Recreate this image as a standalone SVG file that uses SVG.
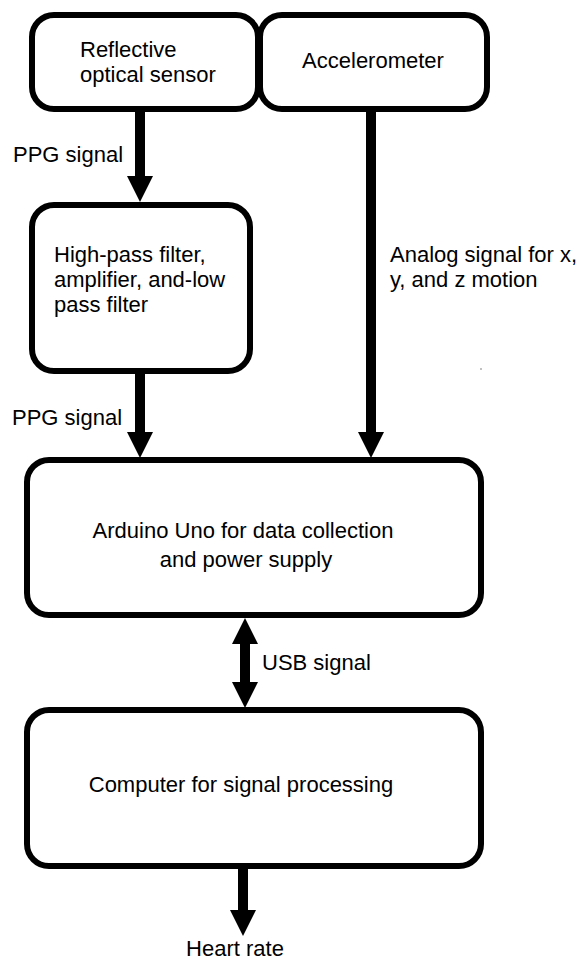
<svg xmlns="http://www.w3.org/2000/svg" width="577" height="960" viewBox="0 0 577 960">
<defs>
<style>
.box{fill:#fff;stroke:#000;stroke-width:6}
.t{font-family:"Liberation Sans",Arial,sans-serif;font-size:22px;fill:#000}
.c{text-anchor:middle}
.conn{stroke:#000;stroke-width:10;fill:none}
</style>
<marker id="ah" markerUnits="userSpaceOnUse" markerWidth="26" markerHeight="26" viewBox="0 0 26 26" refX="12" refY="13" orient="auto-start-reverse">
<path d="M0,0 L26,13 L0,26 z" fill="#000"/>
</marker>
</defs>
<rect width="577" height="960" fill="#fff"/>
<g id="connectors">
<line class="conn" x1="140" y1="108" x2="140" y2="188" marker-end="url(#ah)"/>
<line class="conn" x1="371" y1="108" x2="371" y2="444" marker-end="url(#ah)"/>
<line class="conn" x1="140" y1="372" x2="140" y2="444" marker-end="url(#ah)"/>
<line class="conn" x1="245" y1="632" x2="245" y2="694" marker-start="url(#ah)" marker-end="url(#ah)"/>
<line class="conn" x1="243" y1="868" x2="243" y2="922" marker-end="url(#ah)"/>
<text class="t" x="13" y="162">PPG signal</text>
<text class="t" x="390" y="262">Analog signal for x,</text>
<text class="t" x="390" y="287">y, and z motion</text>
<text class="t" x="12" y="425">PPG signal</text>
<text class="t" x="262" y="670">USB signal</text>
<text class="t c" x="235" y="956">Heart rate</text>
</g>
<g id="sensor">
<rect class="box" x="32" y="15" width="226" height="94" rx="22"/>
<text class="t" x="80" y="57">Reflective</text>
<text class="t" x="80" y="82">optical sensor</text>
</g>
<g id="accelerometer">
<rect class="box" x="260" y="15" width="227" height="94" rx="22"/>
<text class="t c" x="373" y="68">Accelerometer</text>
</g>
<g id="filter">
<rect class="box" x="32" y="205" width="218" height="166" rx="22"/>
<text class="t" x="54" y="262">High-pass filter,</text>
<text class="t" x="54" y="287">amplifier, and-low</text>
<text class="t" x="54" y="312">pass filter</text>
</g>
<g id="arduino">
<rect class="box" x="27" y="460" width="454" height="155" rx="22"/>
<text class="t c" x="243" y="538">Arduino Uno for data collection</text>
<text class="t c" x="246" y="567">and power supply</text>
</g>
<g id="computer">
<rect class="box" x="27" y="710" width="454" height="156" rx="22"/>
<text class="t c" x="241" y="792">Computer for signal processing</text>
</g>
<circle cx="481" cy="369" r="0.7" fill="#555"/>
</svg>
